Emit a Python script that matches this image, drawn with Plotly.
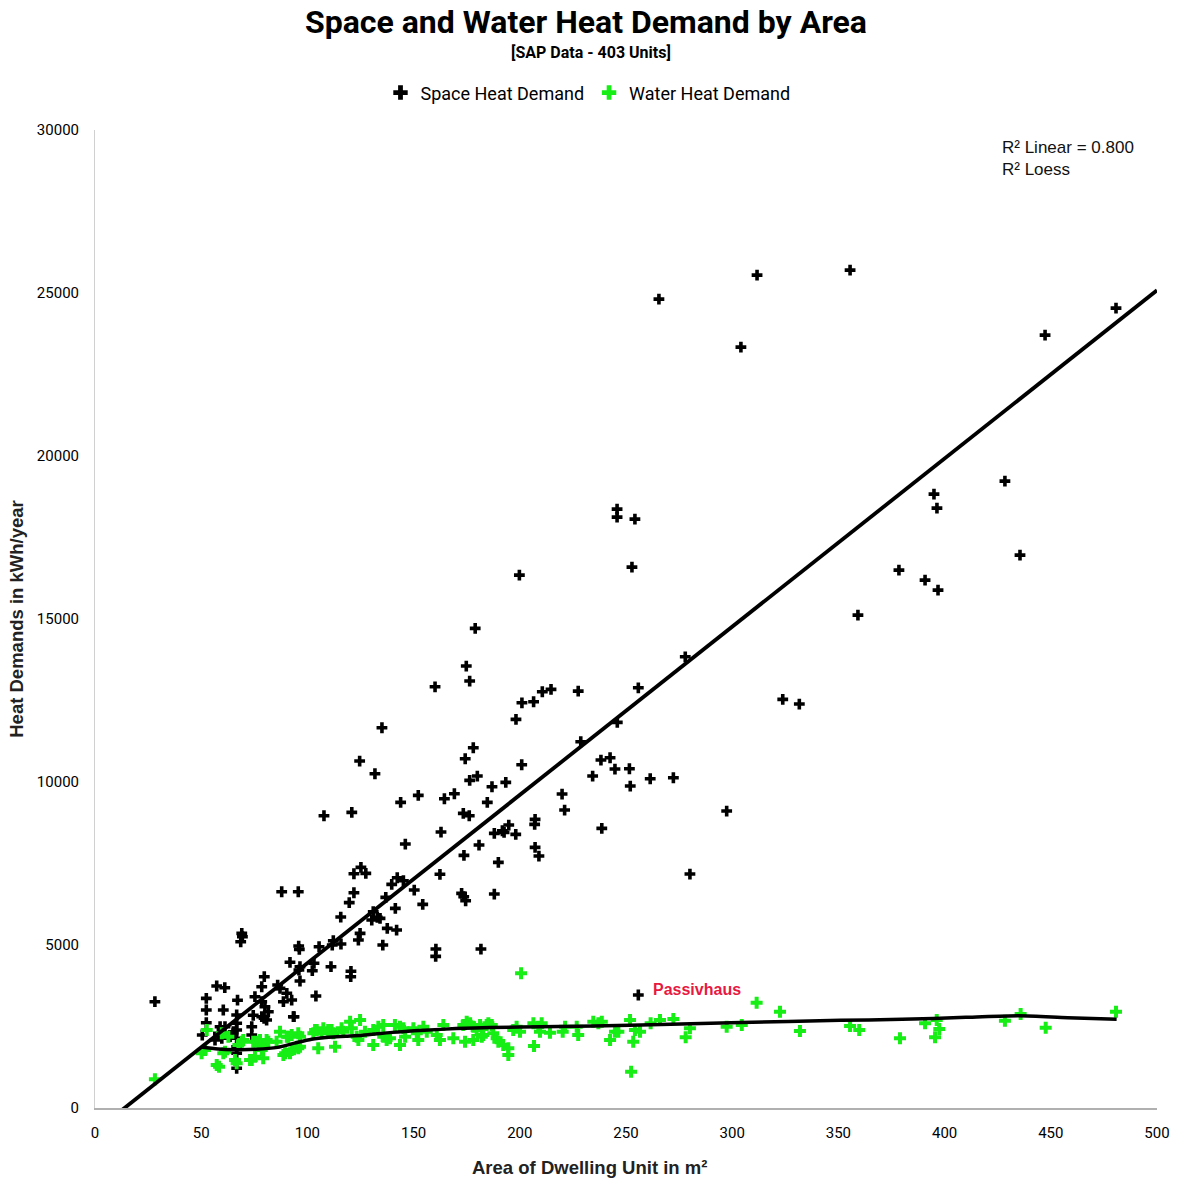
import plotly.graph_objects as go

# Space heat demand (area m², kWh/year)
space_area = [28.2, 311.7, 355.5, 265.5, 480.7, 447.3, 304.1, 428.4, 395.0, 396.4,
              245.8, 245.8, 254.2, 252.8, 435.5, 378.5, 390.8, 396.9, 359.2, 199.8,
              179.0, 277.9, 174.8, 176.4, 255.8, 160.1, 214.7, 210.6, 227.5, 201.0,
              206.5, 323.8, 331.6, 135.1, 198.2, 178.1, 228.7, 245.9, 124.6, 174.3,
              238.2, 242.5, 244.8, 251.6, 131.8, 180.0, 176.4, 200.9, 193.4, 234.3,
              252.0, 261.4, 272.3, 219.9, 143.9, 152.2, 164.5, 169.2, 186.9, 184.7,
              221.1, 297.4, 120.9, 107.8, 173.4, 176.2, 191.8, 188.0, 194.8, 198.1,
              192.6, 207.2, 207.0, 162.9, 238.6, 146.1, 180.8, 207.2, 209.0, 173.7,
              189.9, 280.1, 121.9, 125.2, 127.5, 162.4, 139.7, 142.3, 145.2, 95.7,
              87.9, 121.9, 150.3, 172.6, 174.5, 173.6, 188.0, 119.7, 136.9, 141.4,
              154.3, 115.7, 131.0, 130.3, 132.9, 134.2, 137.6, 142.0, 124.8, 124.0,
              69.1, 69.4, 68.6, 95.9, 96.2, 105.5, 112.2, 115.8, 111.7, 135.5,
              160.5, 160.4, 181.7, 91.8, 96.5, 96.0, 102.3, 111.1, 120.5, 120.4,
              103.1, 96.5, 104.0, 92.6, 93.7, 79.7, 78.5, 86.0, 87.1, 90.3,
              88.7, 57.3, 61.1, 52.4, 52.4, 52.4, 50.5, 60.4, 67.1, 75.3,
              78.5, 80.0, 81.6, 78.5, 80.8, 73.8, 73.8, 66.7, 66.7, 66.7,
              66.7, 66.7, 66.7, 66.7, 58.9, 58.1, 59.7, 56.5, 63.6, 93.4,
              61.2, 65.1, 74.5, 79.6, 255.8]
space_heat = [3260, 25548, 25701, 24812, 24536, 23708, 23340, 19230, 18831, 18402,
              18371, 18126, 18064, 16592, 16960, 16500, 16194, 15887, 15120, 16347,
              14712, 13841, 13556, 13096, 12890, 12921, 12841, 12768, 12789, 12430,
              12461, 12535, 12391, 11664, 11921, 11050, 11234, 11829, 10642, 10713,
              10673, 10744, 10397, 10406, 10253, 10182, 10050, 10529, 9989, 10182,
              9876, 10100, 10131, 9630, 9376, 9590, 9486, 9640, 9854, 9376,
              9139, 9109, 9069, 8965, 9038, 8965, 8505, 8425, 8680, 8394,
              8456, 8854, 8701, 8465, 8578, 8097, 8066, 7996, 7729, 7750,
              7536, 7177, 7186, 7382, 7198, 7168, 6861, 7063, 6971, 6634,
              6634, 6603, 6686, 6585, 6358, 6481, 6563, 6300, 6462, 6125,
              6247, 5858, 6021, 5766, 5849, 5818, 5511, 5459, 5358, 5153,
              5358, 5254, 5100, 4968, 4867, 4947, 5131, 5030, 4999, 4999,
              4876, 4652, 4876, 4469, 4334, 4232, 4211, 4334, 4193, 4027,
              4438, 3895, 3435, 3312, 2800, 4027, 3720, 3772, 3671, 3518,
              3260, 3742, 3690, 3364, 3006, 2616, 2239, 3006, 3306, 3414,
              3260, 3107, 2954, 2800, 2699, 2494, 2239, 2852, 2598, 2392,
              2138, 1880, 1678, 1218, 2494, 2291, 2138, 2086, 2187, 2800,
              2494, 2340, 2843, 2751, 3466]

# Water heat demand (area m², kWh/year)
water_area = [28.2, 52.6, 50.2, 51.8, 57.3, 58.4, 60.4, 65.9, 66.7, 69.1,
              73.8, 79.2, 76.1, 80.8, 78.5, 87.1, 91.0, 95.7, 89.5, 92.6,
              95.7, 85.5, 103.6, 106.7, 109.8, 111.4, 116.1, 105.1, 113.0, 59.7,
              62.8, 61.2, 67.5, 69.8, 74.5, 77.7, 79.2, 81.6, 73.0, 75.3,
              90.3, 92.6, 96.5, 88.7, 91.8, 95.0, 96.5, 102.8, 104.4, 107.5,
              110.6, 112.2, 116.9, 120.1, 120.9, 124.8, 123.2, 124.0, 127.1, 131.0,
              133.4, 135.7, 131.0, 135.7, 137.3, 138.9, 141.2, 143.6, 145.2, 143.6,
              146.0, 149.9, 151.5, 152.2, 154.6, 156.2, 160.9, 162.4, 164.0, 168.7,
              173.4, 175.0, 176.6, 178.1, 179.7, 174.2, 178.1, 182.1, 184.4, 200.6,
              181.3, 185.2, 186.8, 182.8, 187.5, 189.1, 189.9, 192.2, 194.6, 194.6,
              196.9, 198.5, 200.1, 206.4, 208.7, 210.3, 209.5, 206.7, 214.2, 220.2,
              221.3, 227.5, 226.8, 234.6, 237.0, 238.6, 242.5, 244.8, 246.4, 251.9,
              254.2, 256.6, 253.4, 252.4, 261.6, 266.0, 272.3, 278.1, 280.1, 297.4,
              304.5, 311.5, 322.5, 331.9, 355.5, 359.8, 379.0, 390.8, 396.3, 397.5,
              395.5, 428.4, 435.8, 447.6, 480.7]
water_heat = [880, 2392, 1678, 1779, 1319, 1267, 1678, 1472, 1371, 2033,
              1472, 1524, 2033, 2086, 1779, 2340, 2187, 2291, 1678, 1779,
              1831, 2033, 2392, 2291, 2392, 2392, 2444, 1831, 1880, 2291,
              2187, 1727, 1932, 2086, 2033, 2086, 1880, 2033, 1472, 1573,
              2187, 2239, 2187, 1625, 1678, 1880, 1880, 2291, 2392, 2444,
              2392, 2291, 2340, 2647, 2444, 2699, 2187, 2086, 2340, 2392,
              2494, 2546, 1932, 2187, 2086, 2138, 2546, 2494, 2444, 1932,
              2187, 2444, 2291, 2086, 2494, 2340, 2239, 2086, 2546, 2138,
              2546, 2647, 2598, 2494, 2392, 2033, 2086, 2187, 2546, 4131,
              2546, 2598, 2546, 2239, 2291, 2138, 2033, 1932, 1831, 1625,
              2392, 2494, 2340, 2598, 2494, 2598, 2340, 1902, 2309, 2340,
              2494, 2239, 2494, 2647, 2598, 2647, 2086, 2340, 2340, 2699,
              2392, 2340, 2033, 1113, 2598, 2699, 2730, 2168, 2444, 2494,
              2546, 3230, 2954, 2362, 2515, 2392, 2138, 2598, 2699, 2423,
              2168, 2678, 2883, 2463, 2954]

# Linear fit of space heat demand
fit_slope = 51.6
fit_intercept = -717
fit_x = [13, 500]

# Loess curve of water heat demand
loess_x = [50, 58, 66, 76, 86, 94, 102, 110, 118, 126, 140, 155, 170, 186, 210,
           257, 304, 351, 380, 410, 435, 458, 481]
loess_y = [1870, 1810, 1790, 1800, 1860, 1990, 2110, 2170, 2200, 2230, 2320, 2385,
           2435, 2470, 2490, 2546, 2620, 2690, 2720, 2780, 2830, 2770, 2720]

x_ticks = [0, 50, 100, 150, 200, 250, 300, 350, 400, 450, 500]
y_ticks = [0, 5000, 10000, 15000, 20000, 25000, 30000]

GREEN = "#16ee16"
NARROW = "Roboto, sans-serif"
ARIAL = "Liberation Sans, Arial, sans-serif"

fig = go.Figure()
fig.add_trace(go.Scatter(
    x=space_area, y=space_heat, mode="markers", name="Space Heat Demand",
    marker=dict(symbol="cross", size=9, color="black", line=dict(width=0)),
    cliponaxis=False))
fig.add_trace(go.Scatter(
    x=water_area, y=water_heat, mode="markers", name="Water Heat Demand",
    marker=dict(symbol="cross", size=10, color=GREEN, line=dict(width=0)),
    cliponaxis=False))
fig.add_trace(go.Scatter(
    x=fit_x, y=[fit_slope * v + fit_intercept for v in fit_x], mode="lines",
    line=dict(color="black", width=3.8), showlegend=False, hoverinfo="skip"))
fig.add_trace(go.Scatter(
    x=loess_x, y=loess_y, mode="lines", line=dict(color="black", width=3.5, shape="spline", smoothing=0.8),
    showlegend=False, hoverinfo="skip"))

fig.update_layout(
    width=1177, height=1180,
    margin=dict(l=95, r=20, t=130, b=72),
    paper_bgcolor="white", plot_bgcolor="white",
    showlegend=True,
    legend=dict(orientation="h", x=(588 - 95) / 1062, xanchor="center", y=1.038, yanchor="middle",
                font=dict(family=NARROW, size=18, color="black"), itemsizing="constant",
                itemwidth=30, tracegroupgap=0),
    xaxis=dict(range=[0, 500], tickvals=x_ticks, ticktext=[str(v) for v in x_ticks],
               automargin=False,
               showgrid=False, zeroline=False, showline=True, linecolor="#b0b0b0", linewidth=2,
               ticks="", ticklabelstandoff=10, tickfont=dict(family=NARROW, size=15, color="black")),
    yaxis=dict(range=[0, 30000], tickvals=y_ticks, ticktext=[str(v) for v in y_ticks],
               automargin=False,
               showgrid=False, zeroline=False, showline=True, linecolor="#d0d0d0", linewidth=1,
               ticks="", ticklabelstandoff=12, tickfont=dict(family=NARROW, size=15, color="black"),
               title=dict(text="<b>Heat Demands in kWh/year</b>", standoff=8,
                          font=dict(family=ARIAL, size=18.5, color="#222"))),
)

fig.add_annotation(text="<b>Area of Dwelling Unit in m²</b>", xref="paper", yref="paper",
                   x=(589 - 95) / 1062, y=-(1167 - 1108) / 978, xanchor="center", yanchor="middle",
                   showarrow=False, font=dict(family=ARIAL, size=18.5, color="#222"))
fig.add_annotation(text="<b>Space and Water Heat Demand by Area</b>", xref="paper", yref="paper",
                   x=(586 - 95) / 1062, y=1 + (130 - 22) / 978, xanchor="center", yanchor="middle",
                   showarrow=False, font=dict(family=NARROW, size=32, color="black"))
fig.add_annotation(text="<b>[SAP Data - 403 Units]</b>", xref="paper", yref="paper",
                   x=(591 - 95) / 1062, y=1 + (130 - 52) / 978, xanchor="center", yanchor="middle",
                   showarrow=False, font=dict(family=NARROW, size=16, color="black"))
fig.add_annotation(text="R² Linear = 0.800<br>R² Loess", xref="paper", yref="paper",
                   x=(1000 - 95) / 1062, y=1 - (136 - 130) / 978, xanchor="left", yanchor="top",
                   align="left", showarrow=False,
                   font=dict(family=ARIAL, size=17, color="#111"))
fig.add_annotation(text="<b>Passivhaus</b>", x=262, y=3650, xref="x", yref="y",
                   xanchor="left", yanchor="middle", showarrow=False,
                   font=dict(family=ARIAL, size=16, color="#e8193f"))

fig.write_html("out.html")
